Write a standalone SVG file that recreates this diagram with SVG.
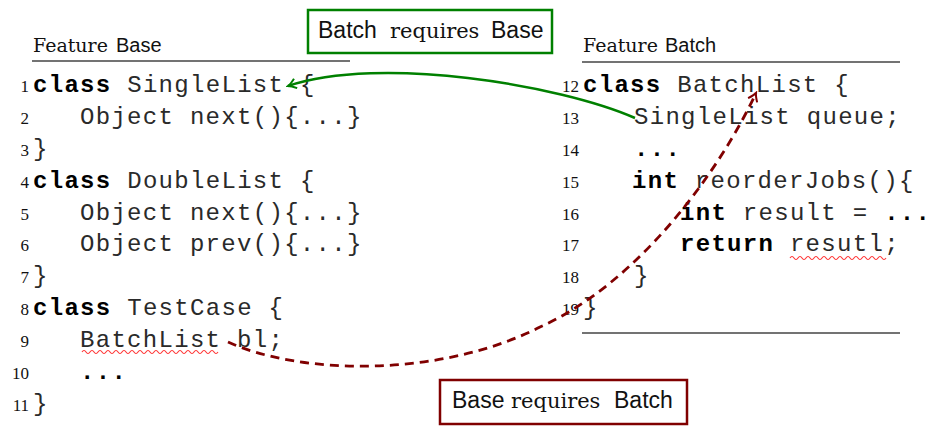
<svg xmlns="http://www.w3.org/2000/svg" width="930" height="428" viewBox="0 0 930 428">
<style>
.code{font-family:"Liberation Mono","Courier New",monospace;font-size:24px;letter-spacing:1.3px;fill:#2a2a2a;white-space:pre}
.kw{font-weight:bold;fill:#000}
.ln{font-family:"Liberation Serif","Times New Roman",serif;font-size:17px;fill:#111;text-anchor:end}
.hs{font-family:"DejaVu Serif",serif;font-size:19px;fill:#111}
.ls{font-family:"DejaVu Serif",serif;font-size:21px;fill:#111}
.hsans{font-family:"Liberation Sans",Arial,sans-serif;font-size:20px;fill:#111}
.lsans{font-family:"Liberation Sans",Arial,sans-serif;font-size:23px;fill:#111}
.rule{stroke:#444;stroke-width:1.5}
.wave{fill:none;stroke:#ff3030;stroke-width:1.1}
</style>
<defs>
<marker id="ag" viewBox="-10 -6 12 12" refX="0" refY="0" markerWidth="12" markerHeight="12" markerUnits="userSpaceOnUse" orient="auto">
<path d="M-8 -5 Q-3 -1 0 0 Q-3 1 -8 5" fill="none" stroke="#008000" stroke-width="2"/>
</marker>
<marker id="ar" viewBox="-10 -6 12 12" refX="0" refY="0" markerWidth="12" markerHeight="12" markerUnits="userSpaceOnUse" orient="auto">
<path d="M-8 -5 Q-3 -1 0 0 Q-3 1 -8 5" fill="none" stroke="#800000" stroke-width="2"/>
</marker>
</defs>
<rect width="930" height="428" fill="#fff"/>

<g id="feature-base">
<text x="33" y="52"><tspan class="hs">Feature</tspan><tspan class="hsans" x="116">Base</tspan></text>
<line class="rule" x1="32" y1="61" x2="350" y2="61"/>
<text class="ln" x="29" y="92">1</text>
<text class="ln" x="29" y="124">2</text>
<text class="ln" x="29" y="156">3</text>
<text class="ln" x="29" y="188">4</text>
<text class="ln" x="29" y="220">5</text>
<text class="ln" x="29" y="251">6</text>
<text class="ln" x="29" y="283">7</text>
<text class="ln" x="29" y="315">8</text>
<text class="ln" x="29" y="347">9</text>
<text class="ln" x="29" y="379">10</text>
<text class="ln" x="29" y="411">11</text>
<text class="code" x="33" y="92" xml:space="preserve"><tspan class="kw">class</tspan> SingleList {</text>
<text class="code" x="80" y="124" xml:space="preserve">Object next(){...}</text>
<text class="code" x="33" y="156" xml:space="preserve">}</text>
<text class="code" x="33" y="188" xml:space="preserve"><tspan class="kw">class</tspan> DoubleList {</text>
<text class="code" x="80" y="220" xml:space="preserve">Object next(){...}</text>
<text class="code" x="80" y="251" xml:space="preserve">Object prev(){...}</text>
<text class="code" x="33" y="283" xml:space="preserve">}</text>
<text class="code" x="33" y="315" xml:space="preserve"><tspan class="kw">class</tspan> TestCase {</text>
<text class="code" x="80" y="347" xml:space="preserve">BatchList bl;</text>
<text class="code kw" x="80" y="379" xml:space="preserve">...</text>
<text class="code" x="33" y="411" xml:space="preserve">}</text>
<path class="wave" d="M82 352 q2 -3 4 0 t4 0 t4 0 t4 0 t4 0 t4 0 t4 0 t4 0 t4 0 t4 0 t4 0 t4 0 t4 0 t4 0 t4 0 t4 0 t4 0 t4 0 t4 0 t4 0 t4 0 t4 0 t4 0 t4 0 t4 0 t4 0 t4 0 t4 0 t4 0 t4 0 t4 0 t4 0 t4 0 t4 0"/>
</g>

<g id="feature-batch">
<text x="583" y="52"><tspan class="hs">Feature</tspan><tspan class="hsans" x="665">Batch</tspan></text>
<line class="rule" x1="582" y1="62" x2="900" y2="62"/>
<line class="rule" x1="582" y1="333" x2="900" y2="333"/>
<text class="ln" x="579" y="92">12</text>
<text class="ln" x="579" y="124">13</text>
<text class="ln" x="579" y="156">14</text>
<text class="ln" x="579" y="188">15</text>
<text class="ln" x="579" y="220">16</text>
<text class="ln" x="579" y="251">17</text>
<text class="ln" x="579" y="283">18</text>
<text class="ln" x="579" y="315">19</text>
<text class="code" x="583" y="92" xml:space="preserve"><tspan class="kw">class</tspan> BatchList {</text>
<text class="code" x="634" y="124" xml:space="preserve">SingleList queue;</text>
<text class="code kw" x="634" y="156" xml:space="preserve">...</text>
<text class="code" x="632" y="188" xml:space="preserve"><tspan class="kw">int</tspan> reorderJobs(){</text>
<text class="code" x="680" y="220" xml:space="preserve"><tspan class="kw">int</tspan> result = <tspan class="kw">...</tspan></text>
<text class="code" x="680" y="251" xml:space="preserve"><tspan class="kw">return</tspan> resutl;</text>
<text class="code" x="634" y="283" xml:space="preserve">}</text>
<text class="code" x="583" y="315" xml:space="preserve">}</text>
<path class="wave" d="M790 258 q2 -3 4 0 t4 0 t4 0 t4 0 t4 0 t4 0 t4 0 t4 0 t4 0 t4 0 t4 0 t4 0 t4 0 t4 0 t4 0 t4 0 t4 0 t4 0 t4 0 t4 0 t4 0 t4 0 t4 0 t4 0"/>
</g>

<g id="connectors">
<path d="M635 118 C560 85 380 55 288 86" fill="none" stroke="#008000" stroke-width="2.5" marker-end="url(#ag)"/>
<path d="M228 342 C300 375 440 378 540 327 C640 282 720 170 756 93" fill="none" stroke="#800000" stroke-width="2.8" stroke-dasharray="9 6" marker-end="url(#ar)"/>
</g>

<g id="label-batch-requires-base">
<rect x="308" y="10" width="244" height="43" fill="#fff" stroke="#008000" stroke-width="2.5"/>
<text y="38"><tspan class="lsans" x="318">Batch</tspan><tspan class="ls" x="390">requires</tspan><tspan class="lsans" x="491">Base</tspan></text>
</g>

<g id="label-base-requires-batch">
<rect x="440" y="380" width="247" height="44" fill="#fff" stroke="#800000" stroke-width="2.5"/>
<text y="408"><tspan class="lsans" x="452">Base</tspan><tspan class="ls" x="511">requires</tspan><tspan class="lsans" x="614">Batch</tspan></text>
</g>
</svg>
